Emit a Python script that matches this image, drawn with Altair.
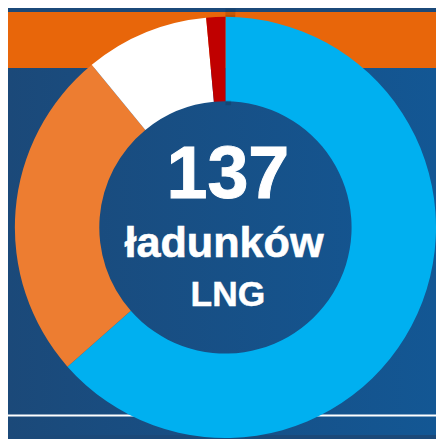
import altair as alt
import pandas as pd

# Data
categories = ["Katar", "USA", "Norwegia", "Inne"]
values = [87, 35, 13, 2]
colors = ["#00B0F0", "#ED7D31", "#FFFFFF", "#C00000"]
order = [1, 2, 3, 4]

center_lines = ["137", "ładunków", "LNG"]

W, H = 436, 431
CX, CY = 221.5, 219.5
R_OUT, R_IN = 214.5, 128.5

df = pd.DataFrame({"kraj": categories, "ladunki": values, "kolejnosc": order})
one = pd.DataFrame({"v": [1]})

bg_grad = alt.Gradient(
    gradient="linear",
    stops=[alt.GradientStop(color="#1B4979", offset=0),
           alt.GradientStop(color="#135794", offset=1)],
    x1=0, x2=1, y1=0, y2=0,
)

background = alt.Chart(one).mark_rect(fill=bg_grad).encode(
    x=alt.value(0), x2=alt.value(W), y=alt.value(0), y2=alt.value(H)
)

band = alt.Chart(one).mark_rect(color="#E8660A").encode(
    x=alt.value(0), x2=alt.value(W), y=alt.value(0), y2=alt.value(57)
)

white_line = alt.Chart(one).mark_rect(color="#FFFFFF").encode(
    x=alt.value(0), x2=alt.value(W), y=alt.value(410), y2=alt.value(412)
)

shadows = []
for k, op in [(14, 0.04), (10, 0.05), (7, 0.06), (4, 0.07), (2, 0.08)]:
    shadows.append(
        alt.Chart(one).mark_arc(radius=R_OUT + k, radius2=R_OUT - 1, color="#000000", opacity=op)
        .encode(theta=alt.Theta("v:Q"), x=alt.value(CX), y=alt.value(CY + 2))
    )

inner_shadow = alt.Chart(one).mark_arc(radius=R_IN + 1, radius2=R_IN - 4, color="#000000", opacity=0.12).encode(
    theta=alt.Theta("v:Q"), x=alt.value(CX), y=alt.value(CY)
)

donut = alt.Chart(df).mark_arc(radius=R_OUT, radius2=R_IN, stroke=None).encode(
    theta=alt.Theta("ladunki:Q", stack=True),
    order=alt.Order("kolejnosc:Q", sort="ascending"),
    color=alt.Color("kraj:N", scale=alt.Scale(domain=categories, range=colors), legend=None),
    x=alt.value(CX),
    y=alt.value(CY),
)

font = "Liberation Sans"
t1 = alt.Chart(one).mark_text(text=center_lines[0], font=font, fontWeight="bold", fontSize=75,
                              color="#FFFFFF", align="center", baseline="alphabetic",
                              stroke="#FFFFFF", strokeWidth=1).encode(
    x=alt.value(224), y=alt.value(190))
t2 = alt.Chart(one).mark_text(text=center_lines[1], font=font, fontWeight="bold", fontSize=44,
                              color="#FFFFFF", align="center", baseline="alphabetic",
                              stroke="#FFFFFF", strokeWidth=0.6).encode(
    x=alt.value(220), y=alt.value(250))
t3 = alt.Chart(one).mark_text(text=center_lines[2], font=font, fontWeight="bold", fontSize=36,
                              color="#FFFFFF", align="center", baseline="alphabetic",
                              stroke="#FFFFFF", strokeWidth=0.5).encode(
    x=alt.value(224), y=alt.value(300))

chart = alt.layer(background, band, white_line, *shadows, donut, inner_shadow, t1, t2, t3).properties(
    width=W, height=H, autosize="none", padding=0, background="#1B4979"
).configure_view(stroke=None)

chart.save("out.html", embed_options={"renderer": "svg", "actions": False})
